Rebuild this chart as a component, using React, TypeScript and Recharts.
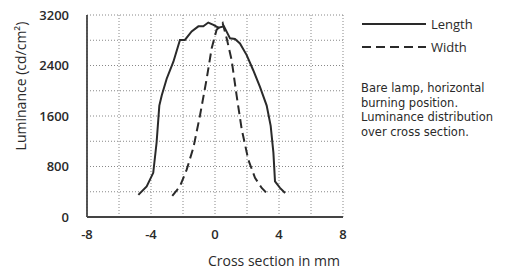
import React from "react";
import {
  LineChart,
  Line,
  XAxis,
  YAxis,
  CartesianGrid,
} from "recharts";

const lengthX = [-4.79, -4.27, -3.86, -3.65, -3.48, -3.33, -3.02, -2.6, -2.19, -1.88, -1.46, -1.04, -0.73, -0.42, -0.1, 0.21, 0.56, 0.94, 1.25, 1.56, 1.98, 2.39, 2.81, 3.23, 3.48, 3.65, 3.75, 4.06, 4.38];
const lengthY = [350, 485, 700, 1180, 1765, 1925, 2190, 2460, 2805, 2805, 2940, 3020, 3020, 3080, 3045, 3000, 3020, 2830, 2820, 2750, 2565, 2325, 2060, 1765, 1445, 1020, 565, 460, 380];
const widthX = [-2.67, -2.19, -1.77, -1.35, -0.94, -0.52, -0.21, 0.1, 0.31, 0.48, 0.73, 1.04, 1.35, 1.67, 2.08, 2.5, 2.92, 3.23];
const widthY = [335, 485, 750, 1100, 1605, 2190, 2670, 2965, 3020, 3070, 2830, 2485, 1925, 1390, 910, 620, 460, 380];

const xTicks = [-8, -4, 0, 4, 8];
const xGrid = [-8, -6, -4, -2, 0, 2, 4, 6, 8];
const yTicks = [0, 800, 1600, 2400, 3200];
const yGrid = [0, 400, 800, 1200, 1600, 2000, 2400, 2800, 3200];
const notes = [
  "Bare lamp, horizontal",
  "burning position.",
  "Luminance distribution",
  "over cross section.",
];

const lengthData = lengthX.map((x, i) => ({ x, y: lengthY[i] }));
const widthData = widthX.map((x, i) => ({ x, y: widthY[i] }));

const FONT = "'Open Sans', 'DejaVu Sans', sans-serif";
const NOTE_FONT = "'DejaVu Sans', sans-serif";
const INK = "#2a2a2a";
const FRAME = "#444";

function Key() {
  return (
    <svg width={160} height={140} style={{ fontFamily: FONT, fontSize: 13, fill: INK }}>
      <line x1={2} y1={10} x2={66} y2={10} stroke={INK} strokeWidth={2} />
      <text x={71} y={14.5}>Length</text>
      <line x1={2} y1={33} x2={66} y2={33} stroke={INK} strokeWidth={2} strokeDasharray="9 5" />
      <text x={71} y={37.5}>Width</text>
      {notes.map((n, i) => (
        <text key={n} x={1} y={78 + i * 14.5} style={{ fontFamily: NOTE_FONT, fontSize: 11.5 }}>
          {n}
        </text>
      ))}
    </svg>
  );
}

// rotated y-axis title, sits left of the tick labels
function YTitle() {
  return (
    <text
      x={20}
      y={86}
      transform="rotate(-90 20 86)"
      textAnchor="middle"
      dominantBaseline="central"
      style={{ fontFamily: FONT, fontSize: 14, fill: INK }}
    >
      Luminance (cd/cm²)
    </text>
  );
}

export default function App() {
  return (
    <div style={{ position: "absolute", left: 0, top: 0, width: 518, height: 269, background: "#fff" }}>
      <LineChart
        width={518}
        height={269}
        margin={{ top: 15, right: 175, bottom: 0, left: 0 }}
      >
        <CartesianGrid
          stroke="#888"
          strokeDasharray="1 2"
          horizontalValues={yGrid}
          verticalValues={xGrid}
        />
        <XAxis
          type="number"
          dataKey="x"
          domain={[-8, 8]}
          ticks={xTicks}
          allowDataOverflow
          tickLine={false}
          axisLine={{ stroke: FRAME, strokeWidth: 1.8 }}
          tick={{ fontFamily: FONT, fontSize: 13, fill: INK, fontWeight: 600 }}
          tickMargin={7}
          height={52}
          label={{
            value: "Cross section in mm",
            position: "insideBottomRight",
            offset: 3,
            style: { fontFamily: FONT, fontSize: 14, fill: INK },
          }}
        />
        <XAxis
          xAxisId="top"
          orientation="top"
          type="number"
          domain={[-8, 8]}
          tick={false}
          tickLine={false}
          height={0}
          axisLine={{ stroke: FRAME, strokeWidth: 1.8 }}
        />
        <YAxis
          type="number"
          domain={[0, 3200]}
          ticks={yTicks}
          allowDataOverflow
          tickLine={false}
          axisLine={{ stroke: FRAME, strokeWidth: 1.8 }}
          tick={{ fontFamily: FONT, fontSize: 13, fill: INK, fontWeight: 600 }}
          tickMargin={12}
          width={87}
          label={<YTitle />}
        />
        <YAxis
          yAxisId="right"
          orientation="right"
          type="number"
          domain={[0, 3200]}
          tick={false}
          tickLine={false}
          width={0}
          axisLine={{ stroke: FRAME, strokeWidth: 1.8 }}
        />
        <Line
          data={lengthData}
          dataKey="y"
          name="Length"
          type="linear"
          stroke={INK}
          strokeWidth={2}
          dot={false}
          isAnimationActive={false}
        />
        <Line
          data={widthData}
          dataKey="y"
          name="Width"
          type="linear"
          stroke={INK}
          strokeWidth={2}
          strokeDasharray="9 5"
          dot={false}
          isAnimationActive={false}
        />
      </LineChart>
      <div style={{ position: "absolute", left: 360, top: 14 }}>
        <Key />
      </div>
    </div>
  );
}
